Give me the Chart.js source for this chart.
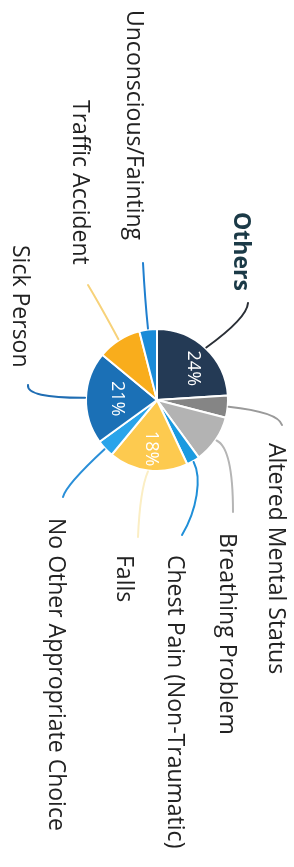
<!DOCTYPE html>
<html>
<head>
<meta charset="utf-8">
<script src="https://cdn.jsdelivr.net/npm/chart.js@4/dist/chart.umd.min.js"></script>
<style>
  html, body { margin: 0; padding: 0; background: #ffffff; }
  #wrap { width: 294px; height: 867px; position: relative; }
</style>
</head>
<body>
<div id="wrap"><canvas id="c" width="294" height="867"></canvas></div>
<script>
// ---- data ----
const categories = [
  "Others",
  "Altered Mental Status",
  "Breathing Problem",
  "Chest Pain (Non-Traumatic)",
  "Falls",
  "No Other Appropriate Choice",
  "Sick Person",
  "Traffic Accident",
  "Unconscious/Fainting"
];
const values = [24, 5, 11, 3, 18, 4, 21, 10, 4];
const percentLabelMin = 15;

// ---- styles ----
const sliceColors = ["#243a55", "#858585", "#b3b3b3", "#1a9ae0", "#fdca4f", "#2aa4ea", "#1b70b6", "#f9ad1c", "#1a8bd8"];
const lineColors  = ["#2a2f36", "#9a9a9a", "#b5b5b5", "#1f8fd8", "#fbeec4", "#2a8fd8", "#1f6db3", "#f7d27a", "#1f7fcf"];

// label anchor (baseline start) offsets relative to pie centre; text is rotated 90deg clockwise
const labelOffsets = [
  [77, -188], [112, 43], [63, 133], [11, 155], [-40, 155], [-108, 118], [-144, -155], [-84, -300], [-30, -390]
];
// leader-line control/end offsets relative to pie centre (4 = quadratic, 6 = cubic)
const leaderPaths = [
  [90, -82, 91, -97],
  [121, 12, 125, 25],
  [76, 48, 76, 112],
  [45, 78, 40, 110, 25, 135],
  [-17, 90, -19, 137],
  [-91, 85, -94, 97],
  [-131, -2, -129, -15],
  [-57, -95, -69, -115],
  [-12, -100, -14, -137]
];
// radial position factor for the percentage labels
const pctRadius = [0.68, 0.6, 0.6, 0.6, 0.69, 0.6, 0.56, 0.6, 0.6];
const pctAngleShift = [0.1, 0, 0, 0, 0, 0, 0, 0, 0];

const labelPlugin = {
  id: 'rotLabels',
  afterDatasetsDraw(chart) {
    const ctx = chart.ctx;
    const meta = chart.getDatasetMeta(0);
    meta.data.forEach((arc, i) => {
      const p = arc.getProps(['x', 'y', 'startAngle', 'endAngle', 'outerRadius'], true);
      const cx = p.x, cy = p.y, R = p.outerRadius;
      const mid = (p.startAngle + p.endAngle) / 2;
      // leader line
      const sx = cx + Math.cos(mid) * (R + 1);
      const sy = cy + Math.sin(mid) * (R + 1);
      const lp = leaderPaths[i];
      ctx.save();
      ctx.strokeStyle = lineColors[i];
      ctx.lineWidth = 2;
      ctx.lineCap = 'round';
      ctx.beginPath();
      ctx.moveTo(sx, sy);
      if (lp.length === 4) {
        ctx.quadraticCurveTo(cx + lp[0], cy + lp[1], cx + lp[2], cy + lp[3]);
      } else {
        ctx.bezierCurveTo(cx + lp[0], cy + lp[1], cx + lp[2], cy + lp[3], cx + lp[4], cy + lp[5]);
      }
      ctx.stroke();
      ctx.restore();

      // category label, rotated 90deg clockwise
      const lo = labelOffsets[i];
      ctx.save();
      ctx.translate(cx + lo[0], cy + lo[1]);
      ctx.rotate(Math.PI / 2);
      ctx.textAlign = 'left';
      ctx.textBaseline = 'alphabetic';
      if (i === 0) {
        ctx.font = 'bold 23px "Open Sans"';
        ctx.fillStyle = '#1b3a47';
      } else {
        ctx.font = '23px "Open Sans"';
        ctx.fillStyle = '#222222';
      }
      ctx.fillText(categories[i], 0, 0);
      ctx.restore();

      // percentage label
      if (values[i] >= percentLabelMin) {
        const a = mid + pctAngleShift[i];
        const px = cx + Math.cos(a) * R * pctRadius[i];
        const py = cy + Math.sin(a) * R * pctRadius[i];
        ctx.save();
        ctx.translate(px, py);
        ctx.rotate(Math.PI / 2);
        ctx.textAlign = 'center';
        ctx.textBaseline = 'middle';
        ctx.font = '18px "Open Sans"';
        ctx.fillStyle = '#ffffff';
        ctx.fillText(values[i] + '%', 0, 0);
        ctx.restore();
      }
    });
  }
};

function build() {
  new Chart(document.getElementById('c'), {
    type: 'pie',
    data: {
      labels: categories,
      datasets: [{
        data: values,
        backgroundColor: sliceColors,
        borderColor: '#ffffff',
        borderWidth: 2
      }]
    },
    options: {
      responsive: false,
      animation: false,
      rotation: 0,
      layout: { padding: { left: 85, right: 65, top: 328, bottom: 395 } },
      plugins: {
        legend: { display: false },
        tooltip: { enabled: false }
      }
    },
    plugins: [labelPlugin]
  });
}

Promise.all([
  document.fonts.load('23px "Open Sans"'),
  document.fonts.load('bold 23px "Open Sans"'),
  document.fonts.load('18px "Open Sans"')
]).then(build, build);
</script>
</body>
</html>
